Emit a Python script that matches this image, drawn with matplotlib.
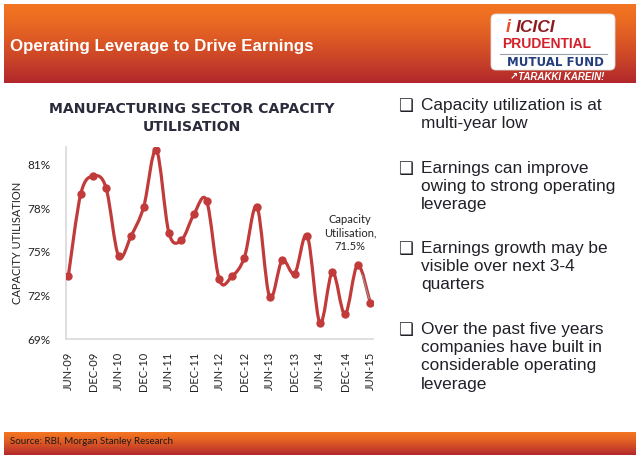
import numpy as np
import matplotlib
matplotlib.use('Agg')
import matplotlib.pyplot as plt
from matplotlib.path import Path
from matplotlib.patches import PathPatch, FancyBboxPatch

# ---------------- data ----------------
quarters = list(range(25))  # Jun-09 .. Jun-15, quarterly
utilisation = [73.3, 79.0, 80.2, 79.4, 74.7, 76.1, 78.1, 82.0, 76.3, 75.8,
               77.6, 78.5, 73.1, 73.3, 74.6, 78.1, 71.9, 74.4, 73.5, 76.1,
               70.1, 73.6, 70.7, 74.1, 71.5]
tick_labels = ['JUN-09', 'DEC-09', 'JUN-10', 'DEC-10', 'JUN-11', 'DEC-11',
               'JUN-12', 'DEC-12', 'JUN-13', 'DEC-13', 'JUN-14', 'DEC-14', 'JUN-15']
y_ticks = [69, 72, 75, 78, 81]
bullets = [
    "Capacity utilization is at\nmulti-year low",
    "Earnings can improve\nowing to strong operating\nleverage",
    "Earnings growth may be\nvisible over next 3-4\nquarters",
    "Over the past five years\ncompanies have built in\nconsiderable operating\nleverage",
]
bullet_y = [106, 169, 249, 330]

W, H = 640, 461
fig = plt.figure(figsize=(6.4, 4.61), dpi=100)
fig.patch.set_facecolor('white')

# background canvas in pixel coordinates
bg = fig.add_axes([0, 0, 1, 1], zorder=0)
bg.axis('off')

def gradient_bar(x0, x1, y0, y1, top, bottom):
    n = 64
    t = np.linspace(0, 1, n)[:, None]
    t = t ** 1.3
    c0 = np.array(matplotlib.colors.to_rgb(top))
    c1 = np.array(matplotlib.colors.to_rgb(bottom))
    img = (c0 * (1 - t) + c1 * t)[:, None, :]
    bg.imshow(img, extent=[x0, x1, y1, y0], aspect='auto', interpolation='bilinear')

gradient_bar(4, 636, 4, 83, '#F37421', '#B2272C')
gradient_bar(4, 636, 432, 455, '#F37421', '#B2272C')
bg.set_xlim(0, W)
bg.set_ylim(H, 0)

bg.text(10, 46, 'Operating Leverage to Drive Earnings', color='white',
        fontsize=12.2, fontfamily='Liberation Sans', fontweight='bold',
        va='center', ha='left')

# logo
bg.add_patch(FancyBboxPatch((491, 14), 124, 56, boxstyle='round,pad=0,rounding_size=5',
                            facecolor='white', edgecolor='#dddddd', lw=0.6))
bg.text(508, 28, 'i', color='#E8502A', fontsize=13, fontweight='bold', style='italic',
        fontfamily='Liberation Sans', va='center', ha='center')
bg.text(516, 28, 'ICICI', color='#8E1B1F', fontsize=12.5, fontweight='bold', style='italic',
        fontfamily='Liberation Sans', va='center', ha='left')
bg.text(502, 44, 'PRUDENTIAL', color='#D4202A', fontsize=10, fontweight='bold',
        fontfamily='Liberation Sans', va='center', ha='left')
bg.plot([500, 607], [54, 54], color='#9aa0b0', lw=0.8)
bg.text(555, 62, 'MUTUAL FUND', color='#233E7D', fontsize=8.5, fontweight='bold',
        fontfamily='DejaVu Sans', va='center', ha='center')
bg.text(557, 77, '\u2197TARAKKI KAREIN!', color='white', fontsize=7, fontweight='bold', style='italic',
        family=['Liberation Sans', 'DejaVu Sans'], va='center', ha='center')

bg.text(10, 441, 'Source: RBI, Morgan Stanley Research', color='#1a1a1a',
        fontsize=7, fontfamily='Lato', va='center', ha='left')

# chart title
bg.text(192, 109, 'MANUFACTURING SECTOR CAPACITY', color='#2b2b3c', fontsize=10.1,
        fontweight='bold', fontfamily='DejaVu Sans', va='center', ha='center')
bg.text(192, 127, 'UTILISATION', color='#2b2b3c', fontsize=10.1,
        fontweight='bold', fontfamily='DejaVu Sans', va='center', ha='center')

# bullets
for txt, yy in zip(bullets, bullet_y):
    bg.text(405, yy, '\u2751', color='#202028', fontsize=12, fontfamily='DejaVu Sans',
            va='center', ha='center')
    bg.text(421, yy - 8, txt, color='#202028', fontsize=12.4, fontfamily='Liberation Sans',
            va='top', ha='left', linespacing=1.27)

# ---------------- chart ----------------
left, right, top, bottom = 66, 372.7, 147, 339
ax = fig.add_axes([left / W, 1 - bottom / H, (right - left) / W, (bottom - top) / H], zorder=1)
ax.patch.set_alpha(0)
ax.set_xlim(-0.18, 24.2)
ax.set_ylim(69, 82.2)

color = '#C23B3B'
x = np.array(quarters, dtype=float)
y = np.array(utilisation, dtype=float)
P = np.column_stack([x, y])
verts = [P[0]]
codes = [Path.MOVETO]
n = len(P)
for i in range(n - 1):
    p0 = P[i - 1] if i > 0 else P[i]
    p1 = P[i]
    p2 = P[i + 1]
    p3 = P[i + 2] if i + 2 < n else P[i + 1]
    c1 = p1 + (p2 - p0) / 6.0
    c2 = p2 - (p3 - p1) / 6.0
    verts += [c1, c2, p2]
    codes += [Path.CURVE4] * 3
ax.add_patch(PathPatch(Path(verts, codes), facecolor='none', edgecolor=color, lw=2.3,
                       capstyle='round', joinstyle='round', zorder=3))
ax.plot(x, y, linestyle='none', marker='o', ms=5, color=color, zorder=4)

ax.set_yticks(y_ticks)
ax.set_yticklabels([f'{v}%' for v in y_ticks], fontsize=8.5, fontfamily='Lato', color='#222222')
ax.set_xticks(quarters[::2])
ax.set_xticklabels(tick_labels, rotation=90, fontsize=8, fontfamily='Lato', color='#222222')
ax.tick_params(axis='both', length=0)
ax.tick_params(axis='y', pad=11)
ax.tick_params(axis='x', pad=9)
for s in ['top', 'right']:
    ax.spines[s].set_visible(False)
for s in ['left', 'bottom']:
    ax.spines[s].set_color('#d9d9d9')
    ax.spines[s].set_linewidth(1.2)
ax.set_ylabel('CAPACITY UTILISATION', fontsize=8, fontfamily='Lato', color='#222222', labelpad=3)

ax.annotate('Capacity\nUtilisation,\n71.5%', xy=(x[-1], y[-1]), xytext=(22.4, 76.3),
            textcoords='data', ha='center', va='center', fontsize=8, fontfamily='Lato',
            color='#222222', linespacing=1.3,
            arrowprops=dict(arrowstyle='-', color='#999999', lw=0.8, shrinkA=15, shrinkB=3))

fig.savefig('out.png', dpi=100, facecolor='white')
